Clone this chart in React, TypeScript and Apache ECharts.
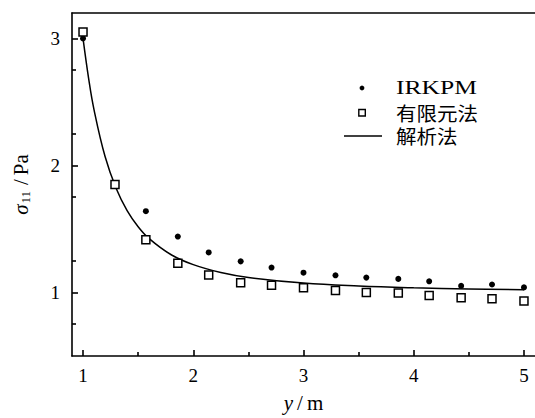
import React, { useEffect, useRef } from "react";
import * as echarts from "echarts";

const xValues = [1, 1.29, 1.57, 1.86, 2.14, 2.43, 2.71, 3.0, 3.29, 3.57, 3.86, 4.14, 4.43, 4.71, 5.0];
const irkpmValues = [3.0, 1.85, 1.64, 1.44, 1.315, 1.245, 1.196, 1.156, 1.135, 1.117, 1.107, 1.088, 1.052, 1.063, 1.04];
const femValues = [3.05, 1.85, 1.415, 1.23, 1.138, 1.076, 1.057, 1.037, 1.016, 1.0, 0.995, 0.977, 0.959, 0.951, 0.932];
const curveX = [1.0, 1.05, 1.1, 1.2, 1.3, 1.4, 1.5, 1.6, 1.8, 2.0, 2.25, 2.5, 3.0, 3.5, 4.0, 4.5, 5.0];
const curveY = [3.0, 2.69, 2.438, 2.07, 1.821, 1.645, 1.518, 1.424, 1.297, 1.219, 1.157, 1.118, 1.074, 1.051, 1.037, 1.028, 1.022];
const xMajorTicks = [1, 2, 3, 4, 5];
const xMinorTicks = [1.5, 2.5, 3.5, 4.5];
const yMajorTicks = [1, 2, 3];
const yMinorTicks = [0.75, 1.25, 1.75, 2.25, 2.75];
const legendNames = ["IRKPM", "有限元法", "解析法"];

const SERIF = "Liberation Serif";
const CJK = "Noto Sans CJK SC";
const AX = { color: "#000", width: 1.6 };

export default function App() {
  const ref = useRef<HTMLDivElement>(null);
  useEffect(() => {
    if (!ref.current) return;
    const chart = echarts.init(ref.current, undefined, { renderer: "svg" });
    const zip = (xs: number[], ys: number[]) => xs.map((x, i) => [x, ys[i]]);
    const nameRich = {
      i: { fontFamily: SERIF, fontSize: 21, fontStyle: "italic", color: "#000" },
      n: { fontFamily: SERIF, fontSize: 21, color: "#000" },
      sl: { fontFamily: SERIF, fontSize: 21, color: "#000", padding: [0, 4, 0, 4] },
      sub: { fontFamily: SERIF, fontSize: 13, color: "#000", verticalAlign: "bottom", padding: [10, 2, 0, 1] },
    };
    chart.setOption({
      animation: false,
      backgroundColor: "#fff",
      grid: { left: 72, top: 13, width: 465, bottom: 59.5, containLabel: false },
      xAxis: [
        {
          type: "value", min: 0.9, max: 5.1, position: "bottom",
          axisLine: { show: true, lineStyle: AX },
          axisTick: { show: true, inside: true, length: 6, customValues: xMajorTicks, lineStyle: AX },
          axisLabel: { customValues: xMajorTicks, fontSize: 19, fontFamily: SERIF, color: "#000", margin: 10 },
          splitLine: { show: false },
          name: "{i|y}{sl|/}{n|m}", nameLocation: "middle", nameGap: 36,
          nameTextStyle: { fontFamily: SERIF, fontSize: 21, color: "#000", rich: nameRich },
        },
        {
          type: "value", min: 0.9, max: 5.1, position: "bottom",
          axisLine: { show: false },
          axisTick: { show: true, inside: true, length: 4, customValues: xMinorTicks, lineStyle: AX },
          axisLabel: { show: false },
          splitLine: { show: false },
        },
        {
          type: "value", min: 0.9, max: 5.1, position: "top",
          axisLine: { show: true, lineStyle: AX },
          axisTick: { show: false },
          axisLabel: { show: false },
          splitLine: { show: false },
        },
      ],
      yAxis: [
        {
          type: "value", min: 0.5, max: 3.2, position: "left",
          axisLine: { show: true, lineStyle: AX },
          axisTick: { show: true, inside: true, length: 6, customValues: yMajorTicks, lineStyle: AX },
          axisLabel: { customValues: yMajorTicks, fontSize: 19, fontFamily: SERIF, color: "#000", margin: 12 },
          splitLine: { show: false },
          name: "{i|σ}{sub|11}{sl|/}{n|Pa}", nameLocation: "middle", nameGap: 40, nameRotate: 90,
          nameTextStyle: { fontFamily: SERIF, fontSize: 21, color: "#000", rich: nameRich },
        },
        {
          type: "value", min: 0.5, max: 3.2, position: "left",
          axisLine: { show: false },
          axisTick: { show: true, inside: true, length: 4, customValues: yMinorTicks, lineStyle: AX },
          axisLabel: { show: false },
          splitLine: { show: false },
        },
      ],
      series: [
        {
          name: legendNames[2], type: "line", xAxisIndex: 0, yAxisIndex: 0,
          data: zip(curveX, curveY), smooth: 0.4, symbol: "none", z: 1,
          lineStyle: { color: "#000", width: 1.5 },
        },
        {
          name: legendNames[0], type: "scatter", xAxisIndex: 0, yAxisIndex: 0,
          data: zip(xValues, irkpmValues), symbol: "circle", symbolSize: 6, z: 2,
          itemStyle: { color: "#000", opacity: 1 },
        },
        {
          name: legendNames[1], type: "scatter", xAxisIndex: 0, yAxisIndex: 0,
          data: zip(xValues, femValues), symbol: "rect", symbolSize: 8, z: 3,
          itemStyle: { color: "#fff", borderColor: "#000", borderWidth: 1.5, opacity: 1 },
        },
      ],
      graphic: [
        { type: "circle", shape: { cx: 362, cy: 88, r: 2.4 }, style: { fill: "#000" } },
        { type: "rect", shape: { x: 358.8, y: 109.5, width: 6.5, height: 6.5 }, style: { fill: "#fff", stroke: "#000", lineWidth: 1.4 } },
        { type: "line", shape: { x1: 344, y1: 136, x2: 382, y2: 136 }, style: { stroke: "#000", lineWidth: 1.5 } },
        { type: "text", x: 396, y: 88, scaleX: 1.42, style: { text: legendNames[0], fontFamily: SERIF, fontSize: 18, fill: "#000", verticalAlign: "middle" } },
        { type: "text", x: 396, y: 112.5, scaleX: 1.08, style: { text: legendNames[1], fontFamily: CJK, fontSize: 19, fill: "#000", verticalAlign: "middle" } },
        { type: "text", x: 396, y: 136, scaleX: 1.08, style: { text: legendNames[2], fontFamily: CJK, fontSize: 19, fill: "#000", verticalAlign: "middle" } },
      ],
    });
    return () => chart.dispose();
  }, []);
  return <div ref={ref} style={{ position: "fixed", left: 0, top: 0, width: 535, height: 418 }} />;
}
